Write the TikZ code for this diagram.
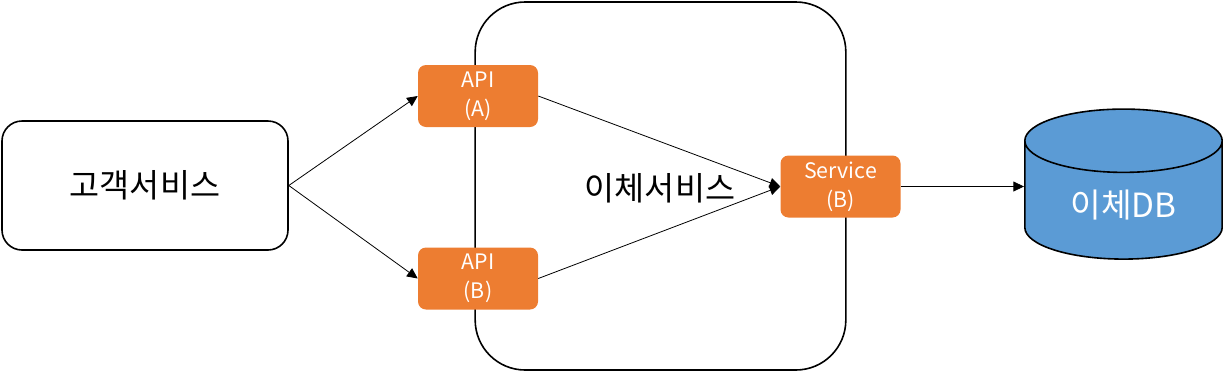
\documentclass[tikz,border=0pt]{standalone}
\usepackage{fontspec}
\setmainfont{Noto Sans CJK KR}
\usetikzlibrary{arrows.meta,shapes.geometric,positioning}
\definecolor{orang}{HTML}{ED7D31}
\definecolor{dbblau}{HTML}{5B9BD5}
\tikzset{
  pfeil/.style={-{Triangle[length=2.8mm,width=2.6mm]},line width=0.6pt},
  dienst/.style={draw,line width=1.2pt,font=\fontsize{24.5}{28}\selectfont},
  apibox/.style={fill=orang,text=white,rounded corners=6pt,align=center,
    minimum width=90pt,minimum height=46.5pt,font=\fontsize{16}{22}\selectfont},
  dbzyl/.style={cylinder,shape border rotate=90,aspect=0.55,draw,line width=1.2pt,
    fill=dbblau,text=white,minimum width=148pt,minimum height=112.5pt,
    font=\fontsize{25}{28}\selectfont},
}

\begin{document}
\begin{tikzpicture}[x=0.75pt,y=-0.75pt]
  \useasboundingbox (0,0) rectangle (1223,372);
  % Dienste
  \node[dienst,rounded corners=37.5pt,minimum width=278pt,minimum height=276pt] (transfer) at (660.5,186) {};
  \node[font=\fontsize{24.5}{28}\selectfont] (transfertxt) at (660,188) {이체서비스};
  \node[dienst,rounded corners=15pt,minimum width=214.5pt,minimum height=96.75pt] (kunde) at (145,185.5) {고객서비스};
  % Schnittstellen
  \node[apibox] (apiA) at (478,96) {API\\(A)};
  \node[apibox] (apiB) at (478,278.5) {API\\(B)};
  \node[apibox] (service) at (840.5,186.5) {Service\\(B)};
  \node[dbzyl] (db) at (1123.5,205) {이체DB};
  % Aufrufe
  \draw[pfeil] (kunde.east) -- (apiA.west);
  \draw[pfeil] (kunde.east) -- (apiB.west);
  \draw[pfeil] (apiA.east) -- (service.west);
  \draw[pfeil] (apiB.east) -- (service.west);
  \draw[pfeil] (service.east) -- (service.east -| db.west);
\end{tikzpicture}
\end{document}
